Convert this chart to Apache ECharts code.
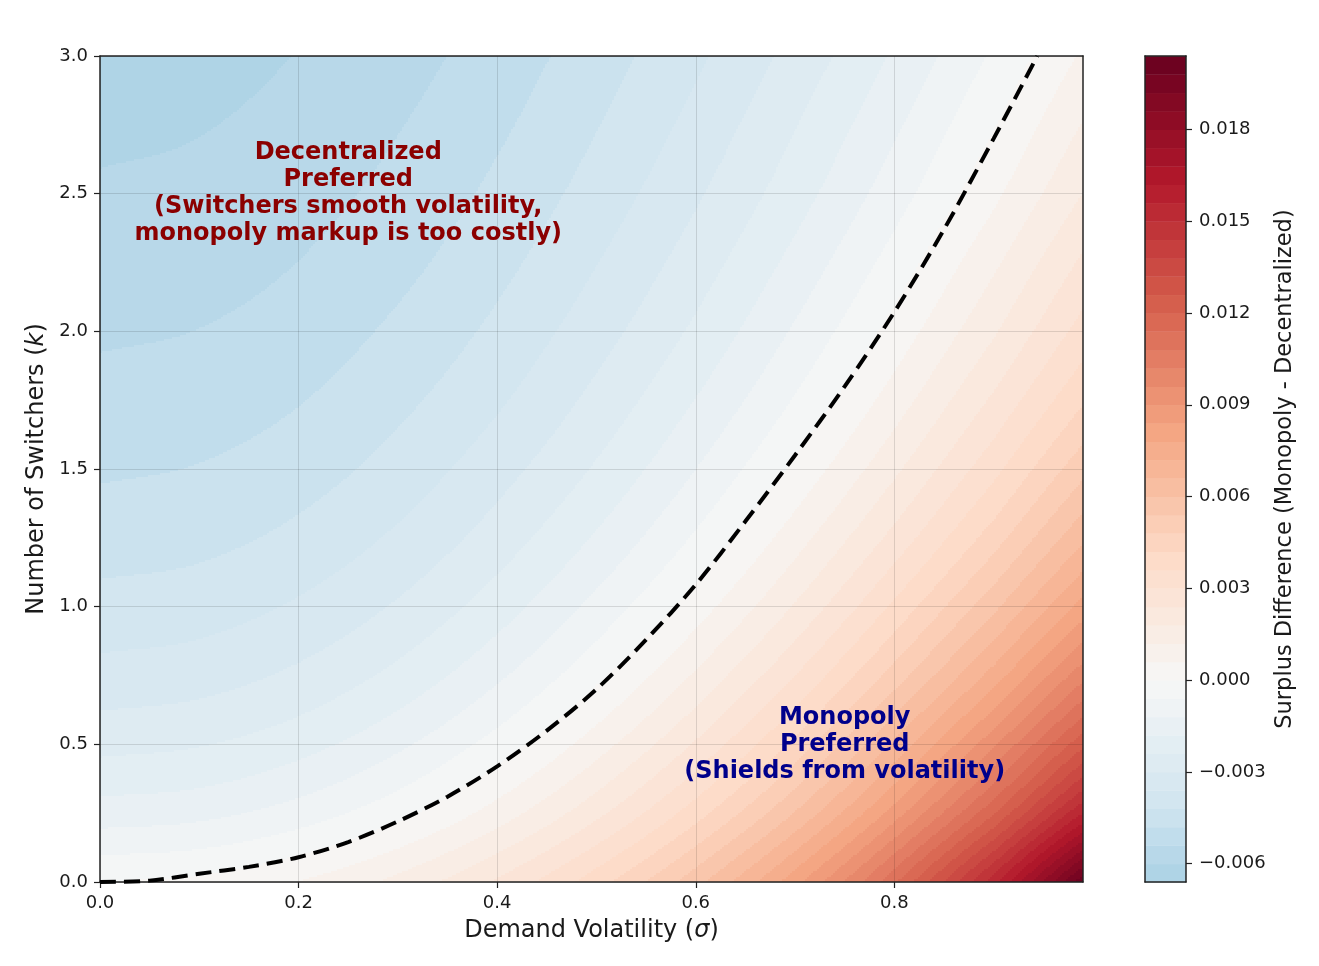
<!DOCTYPE html>
<html>
<head>
<meta charset="utf-8">
<title>Surplus Difference</title>
<script src="https://cdn.jsdelivr.net/npm/echarts@6/dist/echarts.min.js"></script>
<style>
  html, body { margin: 0; padding: 0; background: #fff; }
  #chart { width: 1319px; height: 966px; }
</style>
</head>
<body>
<div id="chart"></div>
<script>
const sigmaValues = [0, 0.1, 0.2, 0.3, 0.4, 0.5, 0.6, 0.7, 0.8, 0.9, 0.99];
const kValues = [0, 0.25, 0.5, 0.75, 1.0, 1.25, 1.5, 1.75, 2.0, 2.25, 2.5, 2.75, 3.0];
// one row per k value, one column per sigma value
const surplusDiff = [
  [0, 0.00015, 0.00062, 0.00139, 0.00249, 0.00394, 0.0058, 0.00819, 0.0113, 0.0154, 0.02027],
  [-0.00151, -0.00137, -0.00092, -0.00018, 0.00087, 0.00223, 0.00394, 0.00604, 0.00868, 0.01195, 0.01562],
  [-0.00258, -0.00244, -0.00203, -0.00133, -0.00035, 0.00091, 0.00248, 0.00437, 0.00672, 0.00948, 0.01245],
  [-0.00338, -0.00325, -0.00286, -0.00222, -0.00131, -0.00014, 0.0013, 0.00301, 0.00508, 0.00748, 0.01002],
  [-0.00399, -0.00387, -0.00351, -0.00292, -0.00209, -0.00101, 0.00031, 0.00187, 0.00373, 0.00586, 0.00806],
  [-0.00448, -0.00437, -0.00404, -0.00349, -0.00272, -0.00173, -0.00051, 0.00093, 0.0026, 0.00452, 0.0065],
  [-0.00488, -0.00477, -0.00447, -0.00396, -0.00324, -0.00233, -0.0012, 0.00013, 0.00167, 0.00342, 0.00522],
  [-0.00521, -0.00511, -0.00483, -0.00435, -0.00369, -0.00283, -0.00178, -0.00055, 0.00088, 0.00251, 0.00413],
  [-0.00548, -0.00539, -0.00513, -0.00468, -0.00406, -0.00326, -0.00228, -0.00112, 0.00022, 0.00173, 0.00325],
  [-0.00572, -0.00564, -0.00539, -0.00497, -0.00438, -0.00362, -0.0027, -0.00161, -0.00035, 0.00109, 0.00252],
  [-0.00593, -0.00585, -0.00561, -0.00522, -0.00466, -0.00395, -0.00308, -0.00206, -0.00087, 0.00047, 0.00182],
  [-0.00611, -0.00603, -0.00581, -0.00543, -0.00491, -0.00423, -0.00341, -0.00243, -0.00131, -0.00003, 0.00124],
  [-0.00627, -0.00619, -0.00598, -0.00563, -0.00513, -0.00449, -0.00371, -0.00279, -0.00172, -0.00051, 0.00069]
];
// contour levels (band edges of the filled contour / colorbar)
const levels = [
  -0.0066, -0.006, -0.0054, -0.0048, -0.0042, -0.0036, -0.003, -0.0024, -0.0018, -0.0012, -0.0006,
  0, 0.0006, 0.0012, 0.0018, 0.0024, 0.003, 0.0036, 0.0042, 0.0048, 0.0054, 0.006, 0.0066,
  0.0072, 0.0078, 0.0084, 0.009, 0.0096, 0.0102, 0.0108, 0.0114, 0.012, 0.0126, 0.0132, 0.0138,
  0.0144, 0.015, 0.0156, 0.0162, 0.0168, 0.0174, 0.018, 0.0186, 0.0192, 0.0198, 0.0204
];
// break-even curve (dashed line)
const zeroSigma = [0, 0.05, 0.1, 0.15, 0.2, 0.25, 0.3, 0.35, 0.4, 0.45, 0.5, 0.55, 0.6, 0.65, 0.7, 0.75, 0.8, 0.85, 0.9, 0.944];
const zeroK = [0, 0.005, 0.03, 0.055, 0.09, 0.145, 0.22, 0.31, 0.42, 0.55, 0.7, 0.88, 1.08, 1.31, 1.55, 1.8, 2.07, 2.37, 2.7, 3.0];

const sigmaTicks = [0, 0.2, 0.4, 0.6, 0.8];
const cbarTicks = [-0.006, -0.003, 0, 0.003, 0.006, 0.009, 0.012, 0.015, 0.018];

const FONT = 'DejaVu Sans';

// RdBu_r colormap
const rdbuR = ['#053061', '#2166ac', '#4393c3', '#92c5de', '#d1e5f0', '#f7f7f7',
  '#fddbc7', '#f4a582', '#d6604d', '#b2182b', '#67001f'];
function hexRgb(h) {
  return [parseInt(h.slice(1, 3), 16), parseInt(h.slice(3, 5), 16), parseInt(h.slice(5, 7), 16)];
}
function cmap(t) {
  t = Math.max(0, Math.min(1, t));
  const p = t * 10;
  const i = Math.min(9, Math.floor(p));
  const f = p - i;
  const a = hexRgb(rdbuR[i]), b = hexRgb(rdbuR[i + 1]);
  const c = a.map((v, n) => Math.round(v + (b[n] - v) * f));
  return 'rgb(' + c.join(',') + ')';
}
const normMax = 0.0204;
const bandColors = [];
for (let i = 0; i < levels.length - 1; i++) {
  const mid = (levels[i] + levels[i + 1]) / 2;
  bandColors.push(cmap((mid + normMax) / (2 * normMax)));
}
function bandOf(v) {
  for (let i = levels.length - 2; i >= 0; i--) {
    if (v >= levels[i] - 1e-12) return i;
  }
  return 0;
}

// grid value with linear extension past the edges
const nS = sigmaValues.length, nK = kValues.length;
function zAt(j, i) {
  if (i < 0) return 2 * zAt(j, 0) - zAt(j, 1);
  if (i > nS - 1) return 2 * zAt(j, nS - 1) - zAt(j, nS - 2);
  if (j < 0) return 2 * zAt(0, i) - zAt(1, i);
  if (j > nK - 1) return 2 * zAt(nK - 1, i) - zAt(nK - 2, i);
  return surplusDiff[j][i];
}
// cubic (catmull-rom) weights for smooth contour rendering
function crWeights(t) {
  const t2 = t * t, t3 = t2 * t;
  return [(-t3 + 2 * t2 - t) / 2, (3 * t3 - 5 * t2 + 2) / 2, (-3 * t3 + 4 * t2 + t) / 2, (t3 - t2) / 2];
}

// one item per grid cell
const cells = [];
for (let j = 0; j < nK - 1; j++) {
  for (let i = 0; i < nS - 1; i++) {
    cells.push([sigmaValues[i], kValues[j], i, j]);
  }
}

function renderCell(params, api) {
  const i = api.value(2), j = api.value(3);
  const a = api.coord([sigmaValues[i], kValues[j]]);
  const b = api.coord([sigmaValues[i + 1], kValues[j + 1]]);
  const xL = Math.round(a[0]), xR = Math.round(b[0]);
  const yB = Math.round(a[1]), yT = Math.round(b[1]);
  const patch = [];
  for (let m = 0; m < 4; m++) {
    const row = [];
    for (let c = 0; c < 4; c++) row.push(zAt(j - 1 + m, i - 1 + c));
    patch.push(row);
  }
  const children = [];
  const step = 2;
  for (let y = yT; y < yB; y += step) {
    const h = Math.min(step, yB - y);
    const wy = crWeights((yB - (y + h / 2)) / (yB - yT));
    const col = [0, 0, 0, 0];
    for (let c = 0; c < 4; c++) {
      col[c] = wy[0] * patch[0][c] + wy[1] * patch[1][c] + wy[2] * patch[2][c] + wy[3] * patch[3][c];
    }
    let runStart = xL, runBand = -1;
    for (let x = xL; x < xR; x += step) {
      const w = Math.min(step, xR - x);
      const wx = crWeights((x + w / 2 - xL) / (xR - xL));
      const v = wx[0] * col[0] + wx[1] * col[1] + wx[2] * col[2] + wx[3] * col[3];
      const band = bandOf(v);
      if (band !== runBand) {
        if (runBand >= 0) {
          children.push({ type: 'rect', shape: { x: runStart, y: y, width: x - runStart, height: h },
            style: { fill: bandColors[runBand] } });
        }
        runStart = x;
        runBand = band;
      }
    }
    children.push({ type: 'rect', shape: { x: runStart, y: y, width: xR - runStart, height: h },
      style: { fill: bandColors[runBand] } });
  }
  return { type: 'group', children: children };
}

const cbarItems = [];
for (let b = 0; b < levels.length - 1; b++) cbarItems.push([0.5, levels[b], b]);

function renderBand(params, api) {
  const b = api.value(2);
  const p0 = api.coord([0, levels[b]]);
  const p1 = api.coord([1, levels[b + 1]]);
  return {
    type: 'group',
    children: [
      { type: 'rect', shape: { x: p0[0], y: p1[1], width: p1[0] - p0[0], height: p0[1] - p1[1] + 0.5 },
        style: { fill: bandColors[b] } },
      { type: 'line', shape: { x1: p0[0], y1: p1[1], x2: p1[0], y2: p1[1] },
        style: { stroke: 'rgba(255,255,255,0.18)', lineWidth: 1 } }
    ]
  };
}

const zeroLine = zeroSigma.map((s, n) => [s, zeroK[n]]);

const frameLine = { show: true, onZero: false, lineStyle: { color: '#222', width: 1.5 } };
const gridLine = { show: true, lineStyle: { color: 'rgba(0,0,0,0.12)', width: 1 } };
const tickStyle = { color: '#222', width: 1.2 };
const labelStyle = { fontFamily: FONT, fontSize: 18, color: '#1a1a1a' };
const nameStyle = {
  fontFamily: FONT, fontSize: 24, color: '#1a1a1a',
  rich: { i: { fontFamily: FONT, fontSize: 24, fontStyle: 'italic', color: '#1a1a1a' } }
};

const chart = echarts.init(document.getElementById('chart'));
chart.setOption({
  animation: false,
  backgroundColor: '#fff',
  grid: [
    { left: 100, top: 56, width: 983, height: 826 },
    { left: 1145, top: 56, width: 41, height: 826 }
  ],
  xAxis: [
    {
      type: 'value', gridIndex: 0, min: 0, max: 0.99, interval: 0.2, z: 10,
      axisLine: frameLine,
      axisTick: { show: true, length: 6, lineStyle: tickStyle, customValues: sigmaTicks },
      axisLabel: Object.assign({ margin: 12, customValues: sigmaTicks, formatter: v => v.toFixed(1) }, labelStyle),
      splitLine: gridLine,
      name: 'Demand Volatility ({i|σ})', nameLocation: 'middle', nameGap: 37, nameTextStyle: nameStyle
    },
    {
      type: 'value', gridIndex: 0, position: 'top', min: 0, max: 0.99, z: 10,
      axisLine: frameLine, axisTick: { show: false }, axisLabel: { show: false }, splitLine: { show: false }
    },
    {
      type: 'value', gridIndex: 1, min: 0, max: 1, z: 10,
      axisLine: frameLine, axisTick: { show: false }, axisLabel: { show: false }, splitLine: { show: false }
    },
    {
      type: 'value', gridIndex: 1, position: 'top', min: 0, max: 1, z: 10,
      axisLine: frameLine, axisTick: { show: false }, axisLabel: { show: false }, splitLine: { show: false }
    }
  ],
  yAxis: [
    {
      type: 'value', gridIndex: 0, min: 0, max: 3, interval: 0.5, z: 10,
      axisLine: frameLine,
      axisTick: { show: true, length: 6, lineStyle: tickStyle },
      axisLabel: Object.assign({ margin: 12, formatter: v => v.toFixed(1) }, labelStyle),
      splitLine: gridLine,
      name: 'Number of Switchers ({i|k})', nameLocation: 'middle', nameGap: 51, nameRotate: 90,
      nameTextStyle: nameStyle
    },
    {
      type: 'value', gridIndex: 0, position: 'right', min: 0, max: 3, z: 10,
      axisLine: frameLine, axisTick: { show: false }, axisLabel: { show: false }, splitLine: { show: false }
    },
    {
      type: 'value', gridIndex: 1, position: 'left', min: -0.0066, max: 0.0204, z: 10,
      axisLine: frameLine, axisTick: { show: false }, axisLabel: { show: false }, splitLine: { show: false }
    },
    {
      type: 'value', gridIndex: 1, position: 'right', min: -0.0066, max: 0.0204, z: 10,
      axisLine: frameLine,
      axisTick: { show: true, length: 6, lineStyle: tickStyle, customValues: cbarTicks },
      axisLabel: Object.assign({
        margin: 13, customValues: cbarTicks,
        formatter: v => (v < -1e-9 ? '\u2212' + Math.abs(v).toFixed(3) : Math.abs(v).toFixed(3))
      }, labelStyle),
      splitLine: { show: false },
      name: 'Surplus Difference (Monopoly - Decentralized)', nameLocation: 'middle', nameGap: 88,
      nameRotate: 90, nameTextStyle: Object.assign({}, nameStyle, { fontSize: 22.5 })
    }
  ],
  series: [
    {
      type: 'custom', name: 'field', xAxisIndex: 0, yAxisIndex: 0, z: 2,
      renderItem: renderCell, data: cells, encode: { x: 0, y: 1 }, silent: true, clip: true
    },
    {
      type: 'custom', name: 'colorbar', xAxisIndex: 2, yAxisIndex: 3, z: 2,
      renderItem: renderBand, data: cbarItems, encode: { x: 0, y: 1 }, silent: true
    },
    {
      type: 'line', name: 'break-even', xAxisIndex: 0, yAxisIndex: 0, z: 20,
      data: zeroLine, smooth: 0.3, showSymbol: false, symbol: 'none',
      lineStyle: { color: '#000', width: 4, type: [16, 8] }
    },
    {
      type: 'scatter', xAxisIndex: 0, yAxisIndex: 0, z: 25, symbolSize: 0, silent: true,
      itemStyle: { opacity: 1 },
      data: [[0.25, 2.5]],
      label: {
        show: true, position: 'inside',
        formatter: 'Decentralized\nPreferred\n(Switchers smooth volatility,\nmonopoly markup is too costly)',
        fontFamily: FONT, fontWeight: 'bold', fontSize: 24, lineHeight: 27, color: '#8b0000', align: 'center'
      }
    },
    {
      type: 'scatter', xAxisIndex: 0, yAxisIndex: 0, z: 25, symbolSize: 0, silent: true,
      itemStyle: { opacity: 1 },
      data: [[0.75, 0.5]],
      label: {
        show: true, position: 'inside',
        formatter: 'Monopoly\nPreferred\n(Shields from volatility)',
        fontFamily: FONT, fontWeight: 'bold', fontSize: 24, lineHeight: 27, color: '#00008b', align: 'center'
      }
    }
  ]
});
</script>
</body>
</html>
